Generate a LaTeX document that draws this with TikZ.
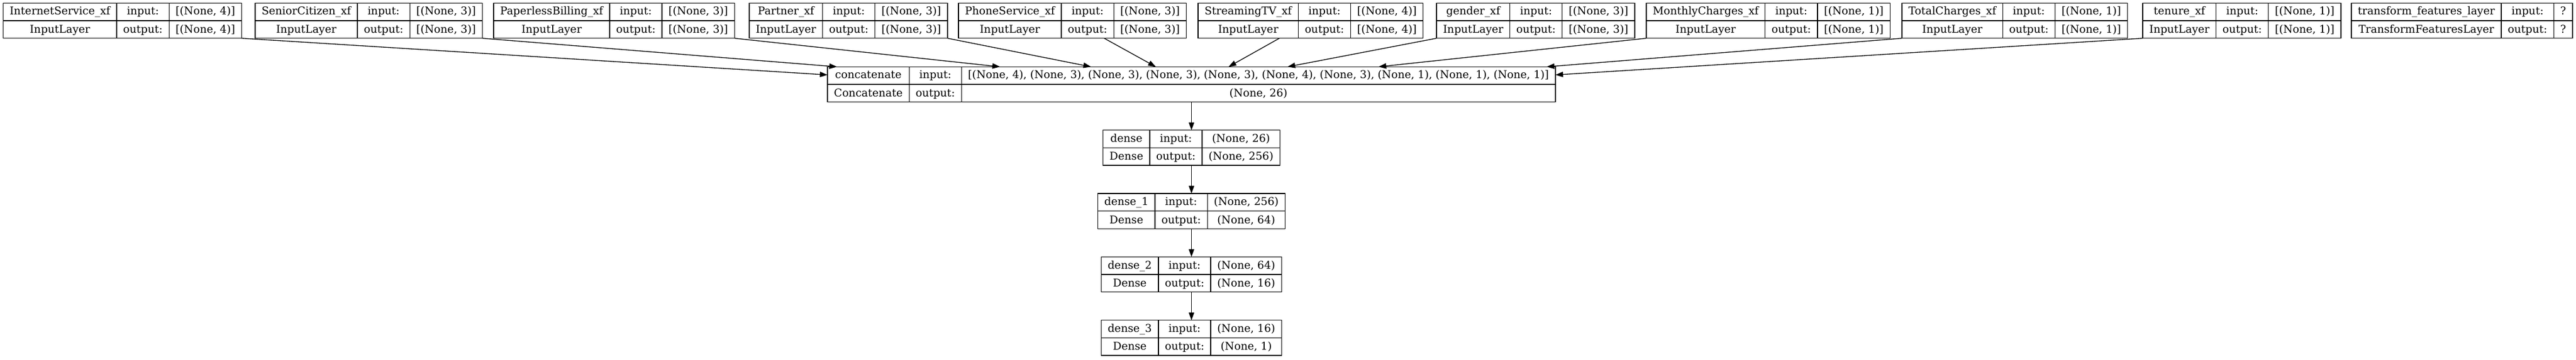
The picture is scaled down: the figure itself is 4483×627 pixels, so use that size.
\documentclass[tikz,border=0pt]{standalone}
\usepackage{fontspec}
\setmainfont{DejaVu Serif}
\usetikzlibrary{arrows.meta,positioning,calc}

\setlength{\tabcolsep}{8.5pt}
\setlength{\arrayrulewidth}{1pt}
\renewcommand{\arraystretch}{0}
\newcommand{\rowstrut}{\rule[-7pt]{0pt}{22.5pt}}
\newcommand{\layertab}[4]{%
  \begin{tabular}{c|c|c}
    \rowstrut#1 & input: & #3 \\ \hline
    \rowstrut#2 & output: & #4
  \end{tabular}}

\begin{document}
\begin{tikzpicture}[x=0.75pt, y=-0.75pt, -{Triangle[length=10pt,width=7pt]}, line width=1pt,
      every node/.append style={font=\fontsize{14pt}{16pt}\selectfont},
      node distance=36.75pt]
    \tikzstyle{layer} = [draw, inner sep=0pt, outer sep=0pt]
    \tikzstyle{inlayer} = [layer, anchor=west]
    \useasboundingbox (0,0) rectangle (4483,627);
    % input layers
    \node (internet) [inlayer] at (5.5,36) {\layertab{InternetService\_xf}{InputLayer}{[(None, 4)]}{[(None, 4)]}};
    \node (senior) [inlayer] at (444,36) {\layertab{SeniorCitizen\_xf}{InputLayer}{[(None, 3)]}{[(None, 3)]}};
    \node (paperless) [inlayer] at (859,36) {\layertab{PaperlessBilling\_xf}{InputLayer}{[(None, 3)]}{[(None, 3)]}};
    \node (partner) [inlayer] at (1304,36) {\layertab{Partner\_xf}{InputLayer}{[(None, 3)]}{[(None, 3)]}};
    \node (phone) [inlayer] at (1668,36) {\layertab{PhoneService\_xf}{InputLayer}{[(None, 3)]}{[(None, 3)]}};
    \node (streaming) [inlayer] at (2085,36) {\layertab{StreamingTV\_xf}{InputLayer}{[(None, 4)]}{[(None, 4)]}};
    \node (gender) [inlayer] at (2500,36) {\layertab{gender\_xf}{InputLayer}{[(None, 3)]}{[(None, 3)]}};
    \node (monthly) [inlayer] at (2865,36) {\layertab{MonthlyCharges\_xf}{InputLayer}{[(None, 1)]}{[(None, 1)]}};
    \node (total) [inlayer] at (3310,36) {\layertab{TotalCharges\_xf}{InputLayer}{[(None, 1)]}{[(None, 1)]}};
    \node (tenure) [inlayer] at (3729,36) {\layertab{tenure\_xf}{InputLayer}{[(None, 1)]}{[(None, 1)]}};
    \node (transform) [inlayer] at (4092,36) {\layertab{transform\_features\_layer}{TransformFeaturesLayer}{?}{?}};
    % model layers
    \node (concat) [layer] at (2073.5,147) {\layertab{concatenate}{Concatenate}{[(None, 4), (None, 3), (None, 3), (None, 3), (None, 3), (None, 4), (None, 3), (None, 1), (None, 1), (None, 1)]}{(None, 26)}};
    \node (dense) [layer, below=of concat] {\layertab{dense}{Dense}{(None, 26)}{(None, 256)}};
    \node (dense1) [layer, below=of dense] {\layertab{dense\_1}{Dense}{(None, 256)}{(None, 64)}};
    \node (dense2) [layer, below=of dense1] {\layertab{dense\_2}{Dense}{(None, 64)}{(None, 16)}};
    \node (dense3) [layer, below=of dense2] {\layertab{dense\_3}{Dense}{(None, 16)}{(None, 1)}};
    % edges into concatenate
    \draw (internet.south east) -- ($(concat.north west)!0.23!(concat.south west)$);
    \draw (senior.south east) -- ($(concat.north west)!0.013!(concat.north east)$);
    \draw (paperless.south east) -- ($(concat.north west)!0.237!(concat.north east)$);
    \draw (partner.south east) -- ($(concat.north west)!0.362!(concat.north east)$);
    \draw (phone) -- ($(concat.north west)!0.451!(concat.north east)$);
    \draw (streaming) -- ($(concat.north west)!0.551!(concat.north east)$);
    \draw (gender.south west) -- ($(concat.north west)!0.632!(concat.north east)$);
    \draw (monthly.south west) -- ($(concat.north west)!0.757!(concat.north east)$);
    \draw (total.south west) -- ($(concat.north west)!0.988!(concat.north east)$);
    \draw (tenure.south west) -- ($(concat.north east)!0.23!(concat.south east)$);
    % dense stack
    \draw (concat) -- (dense);
    \draw (dense) -- (dense1);
    \draw (dense1) -- (dense2);
    \draw (dense2) -- (dense3);
\end{tikzpicture}
\end{document}
